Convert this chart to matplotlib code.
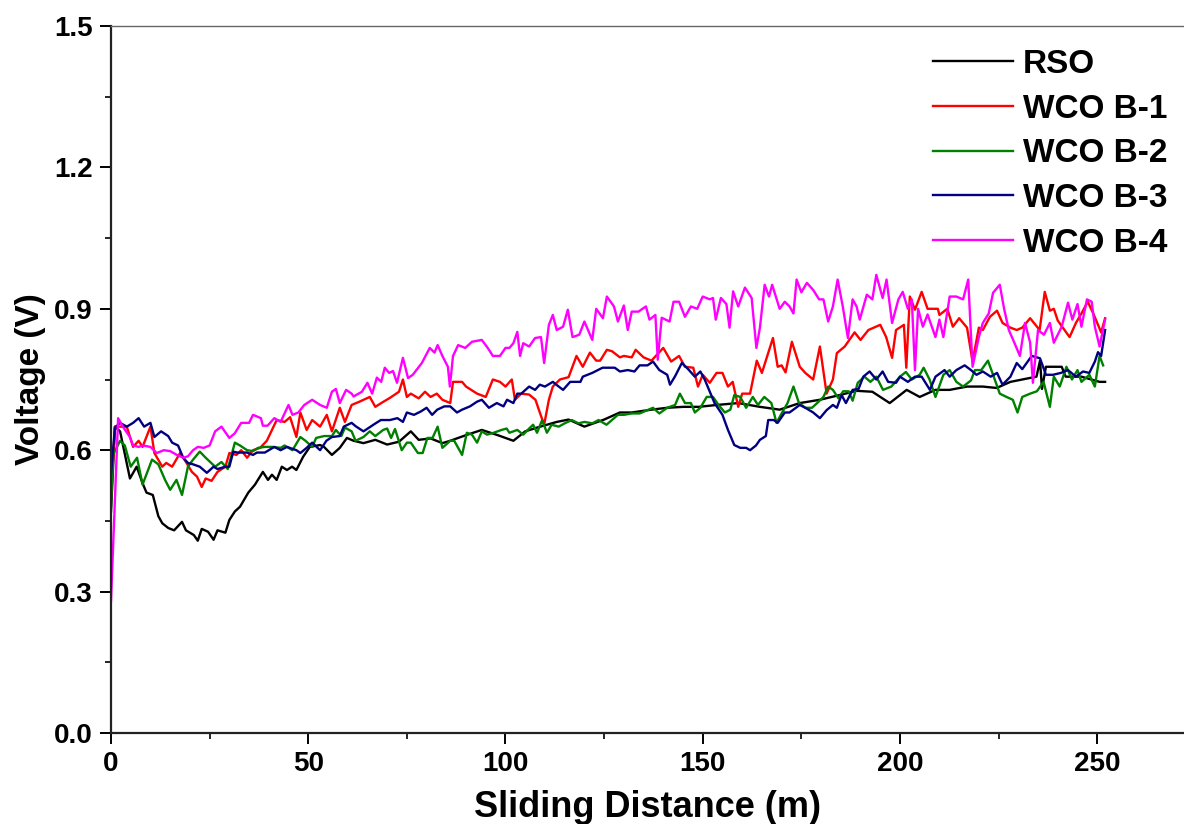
import matplotlib
matplotlib.use("Agg")
import matplotlib.pyplot as plt
from matplotlib.ticker import MultipleLocator
import numpy as np

plt.rcParams['font.family'] = ['Liberation Sans', 'DejaVu Sans']
plt.rcParams['font.weight'] = 'bold'

# (sliding distance in m, voltage in V) for each lubricant
rso = [(0, 0.47), (1, 0.65), (2.3, 0.64), (4.8, 0.54), (6.5, 0.565), (8, 0.53), (9, 0.51), (10.6, 0.505),
       (12, 0.46), (13, 0.445), (14.5, 0.435), (16, 0.43), (18, 0.448), (19, 0.43), (21, 0.42), (22, 0.408),
       (23, 0.433), (24.6, 0.427), (26, 0.41), (27, 0.43), (29, 0.425), (30, 0.452), (31.4, 0.47), (32.7, 0.48),
       (34.8, 0.51), (36.5, 0.527), (38.5, 0.554), (39.8, 0.537), (40.8, 0.548), (42, 0.537), (43.3, 0.565),
       (44.6, 0.558), (45.9, 0.565), (47, 0.558), (48.7, 0.586), (50.4, 0.607), (53, 0.611), (54, 0.607),
       (56, 0.59), (58, 0.605), (59.8, 0.626), (61.5, 0.62), (64, 0.615), (67, 0.622), (70, 0.612), (73, 0.618),
       (76, 0.64), (78, 0.622), (81, 0.625), (84, 0.615), (86, 0.62), (90, 0.632), (94, 0.643), (98, 0.632),
       (102, 0.62), (105, 0.64), (108, 0.648), (113, 0.66), (116, 0.665), (120, 0.65), (125, 0.665), (129, 0.68),
       (132, 0.68), (137, 0.686), (141, 0.69), (145, 0.692), (149, 0.692), (153.6, 0.696), (159, 0.70),
       (164.5, 0.692), (169.5, 0.686), (174.6, 0.70), (179.7, 0.707), (184.7, 0.717), (189, 0.726), (193, 0.724),
       (197.4, 0.70), (201.7, 0.728), (205, 0.713), (209, 0.728), (212.6, 0.728), (217, 0.735), (221, 0.735),
       (224.5, 0.732), (228, 0.745), (231, 0.75), (234.6, 0.756), (235.5, 0.79), (236, 0.73), (237, 0.777),
       (241, 0.777), (242, 0.756), (246, 0.756), (250.6, 0.745), (252, 0.745)]

wco_b1 = [(0, 0.50), (1, 0.65), (4, 0.65), (5.6, 0.607), (7, 0.62), (8, 0.607), (10, 0.65), (11, 0.594),
          (13, 0.565), (14, 0.573), (15.5, 0.565), (17.5, 0.594), (19, 0.575), (20.5, 0.554), (21.8, 0.544),
          (23, 0.522), (24, 0.54), (25.5, 0.535), (27, 0.554), (29, 0.565), (30, 0.594), (31.8, 0.59), (33, 0.60),
          (34.5, 0.584), (36, 0.60), (37.8, 0.605), (39.5, 0.62), (40.8, 0.643), (42, 0.664), (44, 0.66),
          (45.4, 0.67), (47, 0.628), (48, 0.68), (49.6, 0.643), (51, 0.664), (53, 0.65), (54.7, 0.675), (56, 0.64),
          (58, 0.69), (59.3, 0.66), (61, 0.696), (63, 0.703), (65.6, 0.713), (67, 0.692), (68.5, 0.70),
          (70.7, 0.711), (73, 0.724), (74, 0.75), (75, 0.713), (76, 0.72), (78, 0.71), (79.6, 0.724), (81, 0.713),
          (82.6, 0.72), (84, 0.707), (86, 0.70), (86.7, 0.745), (89, 0.745), (90, 0.735), (92.8, 0.72), (95, 0.713),
          (96.8, 0.75), (98.6, 0.745), (100, 0.735), (101.6, 0.75), (102.4, 0.707), (104, 0.72), (106, 0.718),
          (107.6, 0.707), (108.7, 0.68), (109.8, 0.654), (111, 0.707), (112, 0.735), (113.8, 0.75), (116, 0.755),
          (118, 0.80), (119.6, 0.777), (121.4, 0.807), (123, 0.79), (124, 0.79), (125.7, 0.813), (127, 0.81),
          (129, 0.797), (130, 0.80), (132, 0.797), (133, 0.813), (135, 0.797), (137, 0.79), (140, 0.817),
          (142, 0.788), (144, 0.80), (145.5, 0.777), (147.6, 0.775), (148.8, 0.735), (150, 0.76), (151.8, 0.743),
          (153.5, 0.764), (155, 0.764), (156.4, 0.735), (157.6, 0.745), (159, 0.692), (160, 0.72), (162, 0.72),
          (163.7, 0.79), (165, 0.764), (167.8, 0.838), (169, 0.777), (170, 0.78), (171, 0.765), (172.6, 0.83),
          (174.6, 0.777), (176, 0.764), (178, 0.75), (179.7, 0.82), (181.4, 0.72), (183, 0.75), (184, 0.806),
          (186, 0.82), (188.5, 0.85), (190, 0.834), (192, 0.855), (195, 0.866), (196.5, 0.84), (198, 0.796),
          (199, 0.855), (201, 0.866), (201.6, 0.775), (202.5, 0.926), (203.8, 0.898), (205.5, 0.936), (207, 0.90),
          (209.6, 0.90), (210, 0.887), (212, 0.90), (213.4, 0.862), (215, 0.88), (217, 0.86), (218.4, 0.788),
          (220, 0.86), (221, 0.855), (222.8, 0.883), (224.6, 0.896), (226, 0.87), (228, 0.86), (229.6, 0.855),
          (231, 0.86), (233, 0.88), (235.4, 0.855), (236.7, 0.936), (238, 0.896), (239, 0.90), (240, 0.875),
          (243, 0.84), (244.6, 0.87), (246, 0.89), (247.6, 0.915), (249, 0.89), (251, 0.85), (252, 0.88)]

wco_b2 = [(0, 0.48), (0.5, 0.59), (2.3, 0.62), (3.5, 0.61), (5, 0.565), (6.6, 0.584), (8, 0.527), (10.4, 0.58),
          (12, 0.57), (13.7, 0.537), (15, 0.516), (16.6, 0.537), (18, 0.505), (19.5, 0.565), (20.8, 0.58),
          (22.5, 0.597), (24, 0.584), (26.4, 0.565), (28, 0.575), (29.6, 0.56), (31.4, 0.616), (32.7, 0.61),
          (34.5, 0.60), (36, 0.598), (37.3, 0.605), (39, 0.607), (40.8, 0.607), (43, 0.605), (44, 0.61), (46, 0.60),
          (48, 0.628), (49.3, 0.62), (51, 0.607), (52, 0.626), (54, 0.63), (56, 0.63), (57, 0.643), (58.4, 0.63),
          (59.3, 0.648), (61, 0.64), (62, 0.62), (64, 0.628), (65.6, 0.64), (67, 0.63), (69, 0.643), (70, 0.646),
          (71, 0.626), (72, 0.645), (73.7, 0.60), (75, 0.616), (76, 0.616), (77.8, 0.594), (79, 0.594),
          (80.2, 0.626), (81.5, 0.626), (82.8, 0.65), (84, 0.605), (86, 0.62), (87, 0.62), (89, 0.59), (90.2, 0.637),
          (91.5, 0.633), (92.8, 0.616), (94, 0.64), (95.3, 0.633), (97, 0.637), (99, 0.643), (100.3, 0.646),
          (101, 0.637), (103, 0.643), (104.5, 0.633), (106, 0.646), (107, 0.654), (108, 0.637), (109.3, 0.664),
          (110.5, 0.637), (111.7, 0.654), (113.5, 0.65), (115, 0.657), (116.8, 0.664), (118.5, 0.657), (120, 0.66),
          (122, 0.657), (123.6, 0.664), (125.6, 0.654), (128.5, 0.675), (130, 0.675), (132, 0.678), (134, 0.678),
          (137.4, 0.69), (139, 0.678), (141, 0.69), (143, 0.696), (144.2, 0.72), (145.5, 0.70), (147, 0.70),
          (148, 0.68), (149.4, 0.69), (151, 0.713), (152.6, 0.713), (154, 0.696), (155.6, 0.68), (157, 0.686),
          (158, 0.717), (159.5, 0.713), (161, 0.69), (162.7, 0.713), (164, 0.696), (165.6, 0.713), (167.4, 0.70),
          (168.7, 0.658), (170, 0.678), (171.5, 0.70), (173, 0.735), (174.4, 0.70), (176, 0.69), (177.7, 0.69),
          (179, 0.70), (180.6, 0.713), (181.8, 0.735), (183, 0.728), (184.4, 0.71), (185.6, 0.725), (187, 0.725),
          (188, 0.705), (189.3, 0.743), (191, 0.756), (192.5, 0.745), (194, 0.756), (195.7, 0.728), (197.8, 0.735),
          (200, 0.756), (201.5, 0.766), (203, 0.75), (205, 0.76), (206, 0.775), (207.5, 0.75), (209, 0.713),
          (211, 0.76), (212.6, 0.77), (214.3, 0.745), (216, 0.735), (218, 0.748), (219, 0.77), (220.6, 0.77),
          (222.3, 0.79), (223.6, 0.76), (225.3, 0.72), (227, 0.713), (228.6, 0.707), (229.8, 0.68), (231, 0.713),
          (233, 0.72), (234.7, 0.725), (236.4, 0.745), (238, 0.692), (239, 0.756), (240.5, 0.735), (242.2, 0.777),
          (243.6, 0.75), (245, 0.77), (246, 0.745), (248, 0.76), (249.4, 0.735), (250.6, 0.80), (251.5, 0.78)]

wco_b3 = [(0, 0.55), (1, 0.648), (2.3, 0.658), (4, 0.65), (5.6, 0.658), (7, 0.668), (8.4, 0.65), (10, 0.658),
          (11, 0.628), (12.7, 0.64), (14.5, 0.63), (15.5, 0.616), (17, 0.61), (18.3, 0.584), (19.5, 0.573),
          (20.8, 0.57), (22.5, 0.565), (24.3, 0.552), (26, 0.565), (27, 0.56), (29, 0.565), (30, 0.565),
          (31, 0.597), (32, 0.595), (34.5, 0.595), (36, 0.59), (37, 0.595), (39, 0.595), (40, 0.60), (41.4, 0.607),
          (43, 0.60), (44.6, 0.607), (47, 0.60), (48, 0.594), (49.6, 0.605), (51, 0.616), (53, 0.60), (54.6, 0.62),
          (56, 0.628), (58, 0.63), (59, 0.65), (61, 0.658), (62, 0.651), (64, 0.64), (66.7, 0.655), (68.4, 0.664),
          (70.7, 0.664), (72.6, 0.668), (74, 0.66), (75, 0.68), (76.8, 0.675), (78.5, 0.682), (80, 0.69),
          (81.4, 0.675), (82.7, 0.686), (84.5, 0.693), (86, 0.693), (87.7, 0.68), (89, 0.686), (91, 0.693),
          (92.8, 0.703), (94, 0.707), (95.8, 0.69), (97.8, 0.70), (99.5, 0.693), (100.4, 0.707), (102, 0.70),
          (103, 0.72), (104, 0.72), (106, 0.735), (107.5, 0.728), (108.7, 0.739), (110, 0.735), (112, 0.745),
          (113.5, 0.735), (114.6, 0.728), (116.4, 0.745), (119, 0.745), (119.6, 0.756), (122, 0.764),
          (124.6, 0.775), (126, 0.775), (127.7, 0.775), (129, 0.767), (131, 0.77), (132.7, 0.767), (134, 0.78),
          (136, 0.78), (137.4, 0.788), (139, 0.77), (141, 0.76), (141.7, 0.739), (143, 0.757), (144.7, 0.785),
          (146.3, 0.772), (148, 0.756), (149.4, 0.767), (150.5, 0.75), (151.8, 0.724), (153, 0.70), (155, 0.675),
          (156.4, 0.643), (158, 0.611), (159.5, 0.605), (161, 0.605), (162, 0.60), (163.5, 0.61), (164.5, 0.622),
          (166, 0.63), (166.6, 0.664), (168, 0.664), (169, 0.658), (170.8, 0.68), (172, 0.68), (174.6, 0.696),
          (176, 0.69), (178, 0.68), (179.7, 0.668), (181.4, 0.685), (183, 0.696), (184, 0.69), (185.2, 0.717),
          (186.3, 0.70), (188, 0.728), (189.5, 0.73), (190.7, 0.756), (192.3, 0.767), (194, 0.75), (195.6, 0.767),
          (197, 0.745), (199, 0.743), (200, 0.756), (202, 0.745), (203.8, 0.756), (205.5, 0.756), (207.6, 0.728),
          (209, 0.756), (211.3, 0.77), (212.6, 0.756), (214.3, 0.77), (216.4, 0.78), (218, 0.77), (219.4, 0.76),
          (221, 0.767), (223, 0.756), (224.6, 0.764), (226, 0.739), (228, 0.756), (229.6, 0.785), (231, 0.772),
          (233.4, 0.80), (235.5, 0.795), (237, 0.76), (238.8, 0.76), (240.8, 0.764), (242.6, 0.77), (244.6, 0.756),
          (246.4, 0.767), (248, 0.764), (249.4, 0.788), (250.2, 0.808), (251, 0.80), (252, 0.855)]

wco_b4 = [(0, 0.28), (1.8, 0.668), (3, 0.65), (4.8, 0.628), (5.6, 0.61), (7, 0.607), (8, 0.61), (10, 0.607),
          (11.6, 0.594), (13.4, 0.60), (15, 0.598), (16.7, 0.59), (18.3, 0.584), (19.5, 0.587), (20.8, 0.60),
          (22, 0.607), (23.5, 0.605), (25, 0.61), (26.4, 0.64), (28, 0.65), (30, 0.626), (31.4, 0.636), (33, 0.658),
          (35, 0.658), (36, 0.675), (38, 0.668), (38.5, 0.652), (39.7, 0.652), (41.4, 0.668), (43, 0.66),
          (45, 0.696), (46, 0.675), (47.5, 0.68), (49, 0.696), (51, 0.707), (53, 0.696), (54.7, 0.69), (56, 0.724),
          (57, 0.73), (58, 0.70), (59.6, 0.728), (61, 0.72), (61.5, 0.714), (63.6, 0.724), (65, 0.743),
          (66.2, 0.72), (67.4, 0.754), (68.5, 0.745), (69.4, 0.775), (70.5, 0.764), (71.5, 0.768), (72.5, 0.743),
          (74, 0.796), (75.3, 0.753), (76.5, 0.76), (78.8, 0.785), (80.8, 0.817), (82, 0.807), (82.8, 0.823),
          (84, 0.80), (85.4, 0.777), (85.9, 0.735), (86.7, 0.80), (88, 0.823), (89.8, 0.817), (91.5, 0.83),
          (94, 0.834), (95.5, 0.817), (96.8, 0.80), (98.6, 0.80), (100, 0.817), (101, 0.817), (102, 0.827),
          (103, 0.851), (103.7, 0.80), (104.5, 0.827), (106, 0.82), (107.5, 0.838), (109, 0.84), (109.8, 0.785),
          (111, 0.866), (112, 0.887), (113, 0.855), (114.6, 0.862), (115.8, 0.898), (117, 0.84), (118.7, 0.845),
          (120, 0.873), (122, 0.834), (123, 0.90), (124.7, 0.88), (125.7, 0.926), (127.5, 0.905), (128.5, 0.873),
          (130, 0.907), (131, 0.855), (132, 0.894), (133.7, 0.894), (135.6, 0.905), (136.5, 0.877), (138, 0.887),
          (138.6, 0.792), (139.6, 0.881), (141.6, 0.873), (142.6, 0.915), (144, 0.915), (145.5, 0.883),
          (147, 0.905), (148.6, 0.90), (150, 0.926), (151.8, 0.92), (152.6, 0.923), (153.3, 0.877), (154.6, 0.923),
          (156, 0.91), (156.8, 0.86), (157.7, 0.937), (159, 0.905), (160.7, 0.945), (162.4, 0.923), (163.6, 0.817),
          (164.5, 0.86), (165.7, 0.951), (166.8, 0.926), (167.6, 0.951), (169.5, 0.90), (170.8, 0.915),
          (172, 0.905), (173, 0.89), (173.8, 0.962), (175, 0.935), (176.4, 0.955), (178, 0.94), (179.5, 0.92),
          (180.6, 0.92), (181.8, 0.873), (183, 0.905), (184.2, 0.962), (185.5, 0.905), (186.8, 0.838), (188, 0.92),
          (189, 0.905), (189.8, 0.877), (191.6, 0.93), (193, 0.92), (194, 0.972), (195.6, 0.923), (196.6, 0.962),
          (198, 0.87), (199.6, 0.92), (200.7, 0.936), (202, 0.90), (203, 0.92), (203.8, 0.77), (204.6, 0.90),
          (205.8, 0.862), (207, 0.888), (209, 0.84), (210, 0.877), (211, 0.84), (212.6, 0.926), (214.3, 0.926),
          (216, 0.92), (217.3, 0.962), (218.4, 0.777), (220, 0.84), (221, 0.87), (222.5, 0.89), (223.6, 0.934),
          (225.3, 0.951), (226.4, 0.90), (227.6, 0.855), (229, 0.828), (230.4, 0.80), (231.7, 0.87), (233, 0.828),
          (233.7, 0.743), (235, 0.855), (236.5, 0.845), (238, 0.87), (239, 0.828), (241, 0.862), (242.6, 0.913),
          (243.7, 0.877), (245, 0.91), (246, 0.862), (247.4, 0.92), (248.6, 0.915), (249.4, 0.862), (250.6, 0.82),
          (252, 0.877)]

labels = ['RSO', 'WCO B-1', 'WCO B-2', 'WCO B-3', 'WCO B-4']
colors = ['black', '#ff0000', '#008000', '#000080', '#ff00ff']
series = [rso, wco_b1, wco_b2, wco_b3, wco_b4]

fig = plt.figure(figsize=(11.84, 8.24), dpi=100)
ax = fig.add_axes([111 / 1184, 91 / 824, 1073 / 1184, 707 / 824])

for data, label, color in zip(series, labels, colors):
    d = np.array(data)
    ax.plot(d[:, 0], d[:, 1], color=color, lw=1.7, label=label)

ax.set_xlim(0, 272)
ax.set_ylim(0, 1.5)
ax.xaxis.set_major_locator(MultipleLocator(50))
ax.xaxis.set_minor_locator(MultipleLocator(25))
ax.yaxis.set_major_locator(MultipleLocator(0.3))
ax.yaxis.set_minor_locator(MultipleLocator(0.15))
ax.yaxis.set_major_formatter(plt.FormatStrFormatter('%.1f'))

ax.spines['right'].set_visible(False)
ax.spines['top'].set_color('#666666')
ax.spines['top'].set_linewidth(1.0)
for side in ['left', 'bottom']:
    ax.spines[side].set_linewidth(1.6)
    ax.spines[side].set_color('#222222')

ax.tick_params(which='major', direction='out', length=8, width=1.4, labelsize=20, pad=5)
ax.tick_params(which='minor', direction='out', length=4, width=1.2)
for lbl in ax.get_xticklabels() + ax.get_yticklabels():
    lbl.set_fontweight('bold')

ax.set_xlabel('Sliding Distance (m)', fontsize=26, fontweight='bold', labelpad=9)
ax.set_ylabel('Voltage (V)', fontsize=24, fontweight='bold', labelpad=6)

leg = ax.legend(loc='upper left', bbox_to_anchor=(933 / 1184, 1 - 49 / 824),
                bbox_transform=fig.transFigure, frameon=False, fontsize=24,
                handlelength=2.4, handletextpad=0.3, labelspacing=0.41,
                borderpad=0, borderaxespad=0)
for t in leg.get_texts():
    t.set_fontweight('bold')

fig.savefig('out.png', dpi=100)
